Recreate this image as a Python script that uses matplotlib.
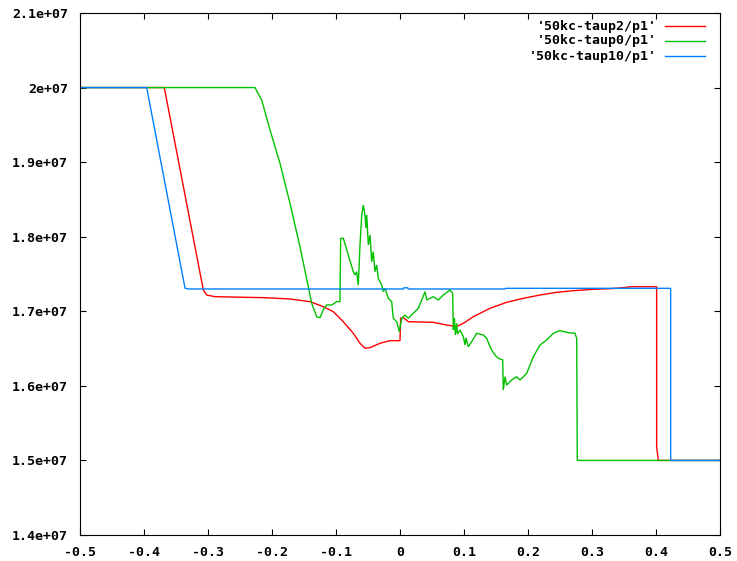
import matplotlib
matplotlib.use("Agg")
import matplotlib.pyplot as plt
from matplotlib.lines import Line2D

# ---- data: pressure profiles along x for three relaxation settings ----
red_label = "'50kc-taup2/p1'"
red_x = [-0.5, -0.3683, -0.3073, -0.302, -0.289,
         -0.2109, -0.1719, -0.1406, -0.1198, -0.1042, -0.0886, -0.0730,
         -0.0625, -0.0547, -0.0469, -0.0313, -0.0156, 0.0, 0.001, 0.005,
         0.013, 0.052, 0.073, 0.0886, 0.099, 0.1145, 0.1406, 0.1667,
         0.1927, 0.2188, 0.2448, 0.2708, 0.3021, 0.328, 0.352, 0.36,
         0.401, 0.401, 0.4036, 0.5]
red_y = [20.0, 20.0, 17.285, 17.218, 17.196,
         17.182, 17.165, 17.129, 17.062, 16.994, 16.860, 16.705,
         16.571, 16.504, 16.512, 16.571, 16.606, 16.606, 16.906, 16.917,
         16.860, 16.852, 16.816, 16.796, 16.839, 16.927, 17.040, 17.120,
         17.174, 17.218, 17.254, 17.276, 17.295, 17.303, 17.319, 17.33,
         17.33, 15.18, 15.0, 15.0]

green_label = "'50kc-taup0/p1'"
green_x = [-0.5, -0.2266, -0.2161, -0.2031, -0.1875, -0.1719, -0.1563,
           -0.1433, -0.138, -0.1302, -0.125, -0.1188, -0.1145, -0.1067,
           -0.0989, -0.0938, -0.0927, -0.0886, -0.0808, -0.073, -0.0703,
           -0.0677, -0.0652, -0.0625, -0.0598, -0.0573, -0.0547, -0.0531,
           -0.052, -0.0495, -0.0469, -0.0442, -0.0417, -0.0391, -0.0364,
           -0.0339, -0.0286, -0.0261, -0.0234, -0.0183, -0.013, -0.0105,
           -0.0052, -0.0011, 0.0027, 0.0078, 0.013, 0.0208,
           0.0286, 0.0339, 0.0391, 0.0417, 0.052, 0.0598, 0.0677, 0.0781,
           0.0823, 0.0833, 0.085, 0.0864, 0.0886, 0.0898, 0.0938, 0.099,
           0.1016, 0.1031, 0.1067, 0.112, 0.1198, 0.1302, 0.1355, 0.1395,
           0.1433, 0.1484, 0.1536, 0.1605, 0.1614, 0.1641, 0.1667, 0.1745,
           0.1823, 0.1875, 0.198, 0.2083, 0.2188, 0.2292, 0.2396, 0.25,
           0.263, 0.2734, 0.2761, 0.277, 0.5]
green_y = [20.0, 20.0, 19.833, 19.431, 18.984, 18.448, 17.866,
           17.330, 17.107, 16.927, 16.914, 17.040, 17.084, 17.084,
           17.129, 17.129, 17.979, 17.979, 17.755, 17.531, 17.487,
           17.531, 17.352, 17.889, 18.291, 18.425, 18.291, 18.117,
           18.291, 17.889, 18.023, 17.665, 17.799, 17.531, 17.621,
           17.442, 17.352, 17.263, 17.308, 17.174, 17.129, 16.906,
           16.860, 16.726, 16.906, 16.950, 16.906, 16.973,
           17.040, 17.151, 17.263, 17.151, 17.196, 17.151, 17.218, 17.285,
           17.241, 16.749, 16.91, 16.682, 16.839, 16.695, 16.749, 16.659,
           16.548, 16.642, 16.525, 16.592, 16.705, 16.682, 16.638, 16.548,
           16.481, 16.414, 16.370, 16.347, 15.944, 16.123, 16.011, 16.079,
           16.123, 16.079, 16.168, 16.391, 16.548, 16.615, 16.705, 16.740,
           16.713, 16.705, 16.638, 15.0, 15.0]

blue_label = "'50kc-taup10/p1'"
blue_x = [-0.5, -0.3958, -0.3359, -0.3307, 0.005, 0.006, 0.012, 0.013,
          0.164, 0.165, 0.4229, 0.4229, 0.5]
blue_y = [20.0, 20.0, 17.31, 17.299, 17.299, 17.315, 17.315, 17.299,
          17.299, 17.308, 17.308, 15.0, 15.0]

x_ticks = [-0.5, -0.4, -0.3, -0.2, -0.1, 0.0, 0.1, 0.2, 0.3, 0.4, 0.5]
x_tick_labels = ["-0.5", "-0.4", "-0.3", "-0.2", "-0.1", "0",
                 "0.1", "0.2", "0.3", "0.4", "0.5"]
y_ticks = [1.4e7, 1.5e7, 1.6e7, 1.7e7, 1.8e7, 1.9e7, 2.0e7, 2.1e7]
y_tick_labels = ["1.4e+07", "1.5e+07", "1.6e+07", "1.7e+07",
                 "1.8e+07", "1.9e+07", "2e+07", "2.1e+07"]

RED, GREEN, BLUE = "#ff0000", "#00c000", "#0080ff"
FONT = dict(family="DejaVu Sans Mono", weight="bold", size=9.5)

fig = plt.figure(figsize=(7.37, 5.61), dpi=100)
ax = fig.add_axes([80 / 737, 1 - 535 / 561, 640 / 737, 522 / 561])

series = [(red_x, red_y, RED), (green_x, green_y, GREEN), (blue_x, blue_y, BLUE)]
for xs, ys, col in series:
    ax.plot(xs, [v * 1e6 for v in ys], color=col, lw=1.0, solid_joinstyle="miter")

ax.set_xlim(-0.5, 0.5)
ax.set_ylim(1.4e7, 2.1e7)
ax.set_xticks(x_ticks)
ax.set_xticklabels(x_tick_labels, fontdict=FONT)
ax.set_yticks(y_ticks)
ax.set_yticklabels(y_tick_labels, fontdict=FONT)
ax.tick_params(direction="in", length=4.5, width=0.8, color="black",
               top=True, right=True)
ax.tick_params(axis="y", pad=8.5)
ax.tick_params(axis="x", pad=8)
for sp in ax.spines.values():
    sp.set_linewidth(0.8)
    sp.set_color("black")

# key in the upper right: right-justified titles followed by line samples
rows = [(red_label, RED, 0.975), (green_label, GREEN, 0.9464), (blue_label, BLUE, 0.9176)]
for label, col, yy in rows:
    ax.text(0.9016, yy, label, transform=ax.transAxes, ha="right", va="center", **FONT)
    ax.add_line(Line2D([0.914, 0.977], [yy, yy], transform=ax.transAxes,
                       color=col, lw=1.0))

fig.savefig("out.png", dpi=100)
